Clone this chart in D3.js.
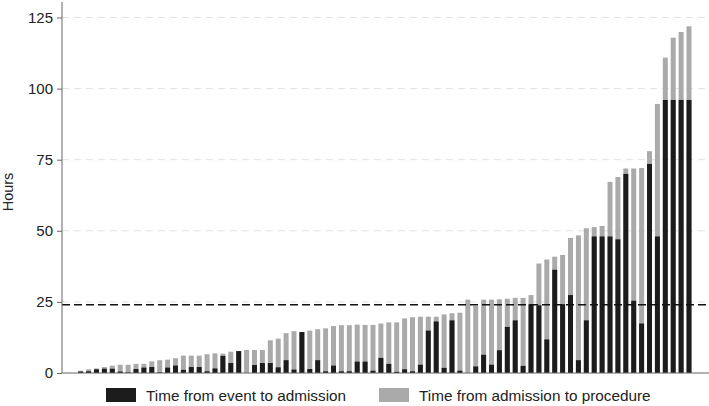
<!DOCTYPE html>
<html>
<head>
<meta charset="utf-8">
<script src="https://cdn.jsdelivr.net/npm/d3@7"></script>
<style>
  body { margin: 0; background: #fff; }
  text { font-family: "Liberation Sans", Arial, sans-serif; fill: #222; }
</style>
</head>
<body>
<svg id="chart" width="709" height="406"></svg>
<script>
// total hours per patient (top of the stack) and the black part
var totals = [0.8, 1.3, 1.6, 2.1, 2.6, 2.9, 2.9, 3.2, 3.2, 4.1,
  4.5, 4.7, 5.2, 6.1, 6.1, 6.1, 6.6, 6.9, 6.8, 7.5,
  7.7, 8.1, 8.1, 8.1, 11.5, 12.1, 14.0, 14.7, 14.4, 14.9,
  15.4, 15.7, 16.5, 16.8, 16.8, 17.0, 16.9, 16.9, 17.4, 17.8,
  17.8, 19.2, 19.6, 19.8, 19.8, 19.8, 20.6, 21.0, 21.2, 25.8,
  23.6, 25.8, 25.8, 25.9, 26.1, 26.4, 26.4, 27.4, 38.5, 39.9,
  40.9, 41.5, 47.5, 48.4, 50.9, 51.3, 51.7, 67.2, 68.9, 71.9,
  71.9, 72.1, 78.0, 94.6, 110.9, 117.9, 119.9, 121.9];
var eventToAdmission = [0.5, 0.6, 1.3, 1.5, 1.5, 0.5, 0.2, 1.4, 1.9, 2.1,
  0.2, 1.9, 2.6, 1.1, 2.1, 2.1, 0.6, 1.6, 6.0, 3.5,
  7.7, 0, 2.8, 3.5, 3.5, 2.0, 4.5, 1.2, 14.4, 1.4,
  4.5, 0.6, 2.6, 0.6, 0.6, 4.0, 4.0, 0.8, 5.3, 3.2,
  0.4, 1.3, 0.6, 2.9, 14.9, 18.1, 1.8, 18.5, 0.8, 0,
  2.3, 6.4, 2.9, 8.0, 16.2, 18.5, 2.5, 24.2, 23.8, 11.8,
  36.3, 24.2, 27.4, 4.5, 18.5, 48, 48, 48, 47, 70,
  25.4, 17.4, 73.5, 48, 96, 96, 96, 96];
var yTicks = [0, 25, 50, 75, 100, 125];
var refLine = 24;
var legendLabels = ["Time from event to admission", "Time from admission to procedure"];
var colors = ["#1c1c1c", "#aaaaaa"];

var svg = d3.select("#chart");
var left = 62, bottom = 373;

var rows = totals.map(function(t, i) {
  return { i: i, black: eventToAdmission[i], total: t };
});

var x = d3.scaleBand()
  .domain(rows.map(function(d) { return d.i; }))
  .range([78.2, 691.5])
  .paddingInner(0.37)
  .paddingOuter(0);

var y = d3.scaleLinear()
  .domain([0, 125])
  .range([bottom, 17.5]);

// grid
svg.append("g")
  .selectAll("line")
  .data(yTicks.filter(function(t) { return t > 0; }))
  .enter().append("line")
    .attr("x1", left)
    .attr("x2", 709)
    .attr("y1", function(d) { return y(d); })
    .attr("y2", function(d) { return y(d); })
    .attr("stroke", "#e2e2e2")
    .attr("stroke-dasharray", "7,5");

// bars: gray full height, black on top of it from zero
svg.append("g")
  .selectAll("rect")
  .data(rows)
  .enter().append("rect")
    .attr("x", function(d) { return x(d.i); })
    .attr("width", x.bandwidth())
    .attr("y", function(d) { return y(d.total); })
    .attr("height", function(d) { return y(0) - y(d.total); })
    .attr("fill", colors[1]);

svg.append("g")
  .selectAll("rect")
  .data(rows)
  .enter().append("rect")
    .attr("x", function(d) { return x(d.i); })
    .attr("width", x.bandwidth())
    .attr("y", function(d) { return y(d.black); })
    .attr("height", function(d) { return y(0) - y(d.black); })
    .attr("fill", colors[0]);

// 24 hour line
svg.append("line")
  .attr("x1", left)
  .attr("x2", 709)
  .attr("y1", y(refLine))
  .attr("y2", y(refLine))
  .attr("stroke", "#111")
  .attr("stroke-width", 1.5)
  .attr("stroke-dasharray", "8,4");

// axes
var yAxis = svg.append("g")
  .attr("transform", "translate(" + left + ",0)")
  .call(d3.axisLeft(y).tickValues(yTicks).tickSize(5).tickPadding(4));
yAxis.select(".domain").remove();
yAxis.selectAll(".tick line").attr("stroke", "#666");
yAxis.selectAll(".tick text")
  .style("font-family", "'Liberation Sans', Arial, sans-serif")
  .style("font-size", "15px")
  .attr("fill", "#222");

svg.append("line")
  .attr("x1", left).attr("x2", left)
  .attr("y1", 2).attr("y2", bottom)
  .attr("stroke", "#666");
svg.append("line")
  .attr("x1", left).attr("x2", 709)
  .attr("y1", bottom).attr("y2", bottom)
  .attr("stroke", "#666");

svg.append("text")
  .attr("transform", "translate(13,192) rotate(-90)")
  .attr("text-anchor", "middle")
  .style("font-size", "14.5px")
  .text("Hours");

// legend
var legendX = [106, 379];
legendLabels.forEach(function(lab, i) {
  svg.append("rect")
    .attr("x", legendX[i])
    .attr("y", 388)
    .attr("width", 30)
    .attr("height", 14)
    .attr("fill", colors[i]);
  svg.append("text")
    .attr("x", legendX[i] + 40)
    .attr("y", 401)
    .style("font-size", "15.3px")
    .text(lab);
});
</script>
</body>
</html>
